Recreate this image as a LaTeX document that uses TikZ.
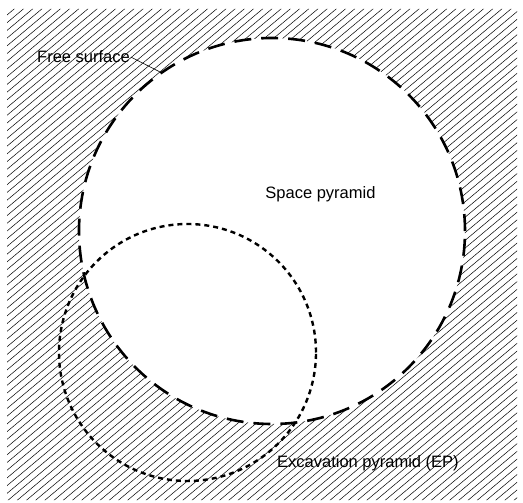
\documentclass[tikz,border=0pt]{standalone}
\usepackage{fontspec}
\setmainfont{Liberation Sans}
\begin{document}
\begin{tikzpicture}[x=1pt, y=-1pt, font=\fontsize{16.5}{18}\selectfont, line join=round,
  surf/.style={line width=2.6pt, dash pattern=on 17pt off 10pt},
  ep/.style={line width=2.4pt, dash pattern=on 5pt off 4pt},
  hatch/.style={line width=0.5pt},
  lbl/.style={inner sep=1pt}]
\useasboundingbox (0,0) rectangle (523,503);
% hatched ground outside the free surface
\begin{scope}[even odd rule]
  \clip (7,9) rectangle (517,500) (272,231) circle (193pt);
  \foreach \c in {-620,-610.8,...,530}
    \draw[hatch] (\c,510) -- ++(620,-520);
\end{scope}
\draw[surf] (272,231) circle (193pt);
\draw[ep] (187.5,352.5) circle (128.5pt);
% labels
\node[lbl, anchor=base west] (fs) at (36,63) {Free surface};
\coordinate (fsp) at (162,73);
\draw[line width=0.6pt] (fs.east) -- (fsp);
\node[lbl, anchor=base] (sp) at (320.5,199) {Space pyramid};
\node[lbl, anchor=base west] (epl) at (276,467) {Excavation pyramid (EP)};
\end{tikzpicture}
\end{document}
